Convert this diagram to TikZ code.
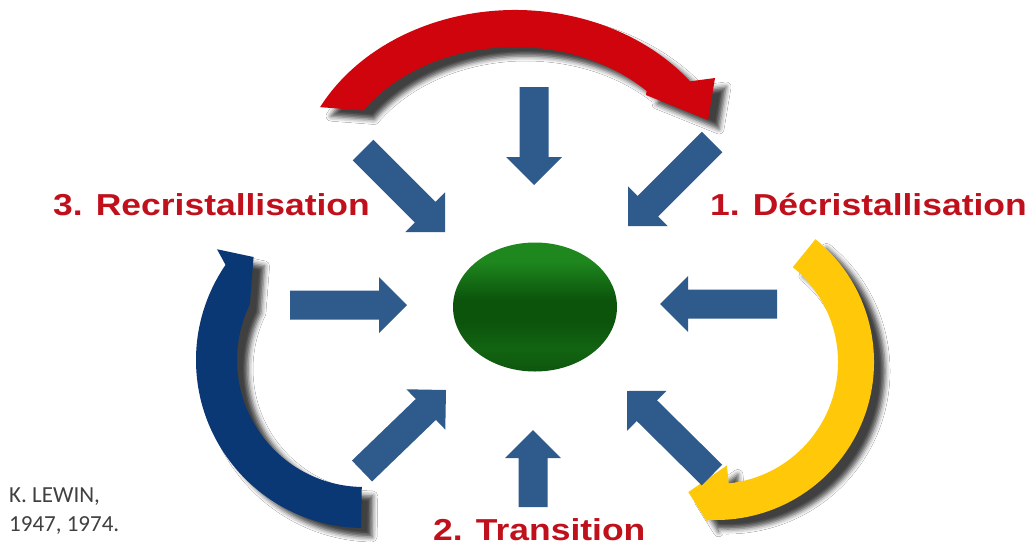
\documentclass[tikz,border=0pt]{standalone}
\usepackage{fontspec}
\usetikzlibrary{calc,shapes.geometric,shadows.blur}
\newfontfamily\titlefont[FakeStretch=1.17]{Liberation Sans}
\newfontfamily\notefont{Carlito}

\definecolor{arcred}{RGB}{208,4,12}
\definecolor{arcyellow}{RGB}{255,200,8}
\definecolor{arcnavy}{RGB}{10,56,116}
\definecolor{arrowblue}{RGB}{46,90,140}
\definecolor{titlered}{RGB}{192,16,28}
\definecolor{notegrey}{RGB}{64,64,64}
\definecolor{gtop}{RGB}{30,136,30}
\definecolor{gmid}{RGB}{22,112,22}
\definecolor{gdark}{RGB}{12,84,12}
\definecolor{glow}{RGB}{18,100,18}
\definecolor{gbot}{RGB}{14,86,14}

% green sphere: bright cap, soft dark band, lighter lower part
\pgfdeclareverticalshading{greenball}{100bp}{color(0bp)=(gbot); color(25bp)=(gbot); color(34bp)=(glow); color(44bp)=(gdark); color(53bp)=(gdark); color(61bp)=(gmid); color(68bp)=(gtop); color(100bp)=(gtop)}

\tikzset{
  arcshadow/.style={blur shadow={shadow xshift=11pt, shadow yshift=-9pt,
      shadow blur radius=5pt, shadow opacity=75}},
  title/.style={inner sep=0pt, anchor=base west, text=titlered,
      font=\titlefont\bfseries\fontsize{30.3}{36}\selectfont},
  note/.style={inner sep=0pt, anchor=north west, align=left, text=notegrey,
      font=\notefont\fontsize{23}{29}\selectfont},
}

% straight block arrow from a tail coordinate to a tip coordinate
\newcommand\blockarrow[3]{%
  \coordinate (#1-t) at #2;
  \coordinate (#1-h) at #3;
  \coordinate (#1-b) at ($(#1-h)!28pt!(#1-t)$);
  \fill[arrowblue]
    ($(#1-t)!14.5pt!90:(#1-h)$) -- ($(#1-b)!14.5pt!90:(#1-h)$)
    -- ($(#1-b)!28pt!90:(#1-h)$) -- (#1-h)
    -- ($(#1-b)!28pt!-90:(#1-h)$) -- ($(#1-b)!14.5pt!-90:(#1-h)$)
    -- ($(#1-t)!14.5pt!-90:(#1-h)$) -- cycle;
}

\begin{document}
\begin{tikzpicture}[x=1pt, y=-1pt]
\useasboundingbox (0,0) rectangle (1030,547);
\fill[white] (0,0) rectangle (1030,547);

% red arc across the top
\begin{scope}[shift={(515,191)}]
  \fill[arcred, arcshadow]
    (-152.4:220 and 181) arc[start angle=-152.4, end angle=-37.3, x radius=220, y radius=181]
    -- (200,-113) -- (193,-71) -- (131,-96)
    -- (-44:183 and 144) arc[start angle=-44, end angle=-146, x radius=183, y radius=144]
    -- cycle;
\end{scope}

% yellow arc on the right
\begin{scope}[shift={(716,362)}]
  \fill[arcyellow, arcshadow]
    (-51:158) arc[start angle=-51, end angle=93, radius=158]
    -- (93:161) -- (102:133) -- (84:104) -- (84:122)
    arc[start angle=84, end angle=-51, radius=122] -- cycle;
\end{scope}

% navy arc on the left
\begin{scope}[shift={(364,360)}]
  \fill[arcnavy, arcshadow]
    (91:168) arc[start angle=91, end angle=214.5, radius=168]
    -- (217:184) -- (223:151) -- (206:127)
    arc[start angle=206, end angle=91, radius=127] -- cycle;
\end{scope}

% forces pushing toward the centre
\blockarrow{aN}{(534,87)}{(534,185)}
\blockarrow{aNE}{(712,142)}{(628,226)}
\blockarrow{aE}{(777,304)}{(660,304)}
\blockarrow{aSE}{(712,475)}{(627,391)}
\blockarrow{aS}{(533,507)}{(533,430)}
\blockarrow{aSW}{(362,471)}{(446,390)}
\blockarrow{aW}{(290,305)}{(407,305)}
\blockarrow{aNW}{(363,150)}{(445,232)}

% the organisation at the centre
\node[ellipse, minimum width=164pt, minimum height=129pt, inner sep=0pt,
      shading=greenball] (core) at (535,307) {};

% stage labels
\node[title] (s3) at (53,215) {3. Recristallisation};
\node[title] (s1) at (710,215) {1. Décristallisation};
\node[title] (s2) at (433,540) {2. Transition};

\node[note] (ref) at (9,488) {K. LEWIN,\\1947, 1974.};
\end{tikzpicture}
\end{document}
